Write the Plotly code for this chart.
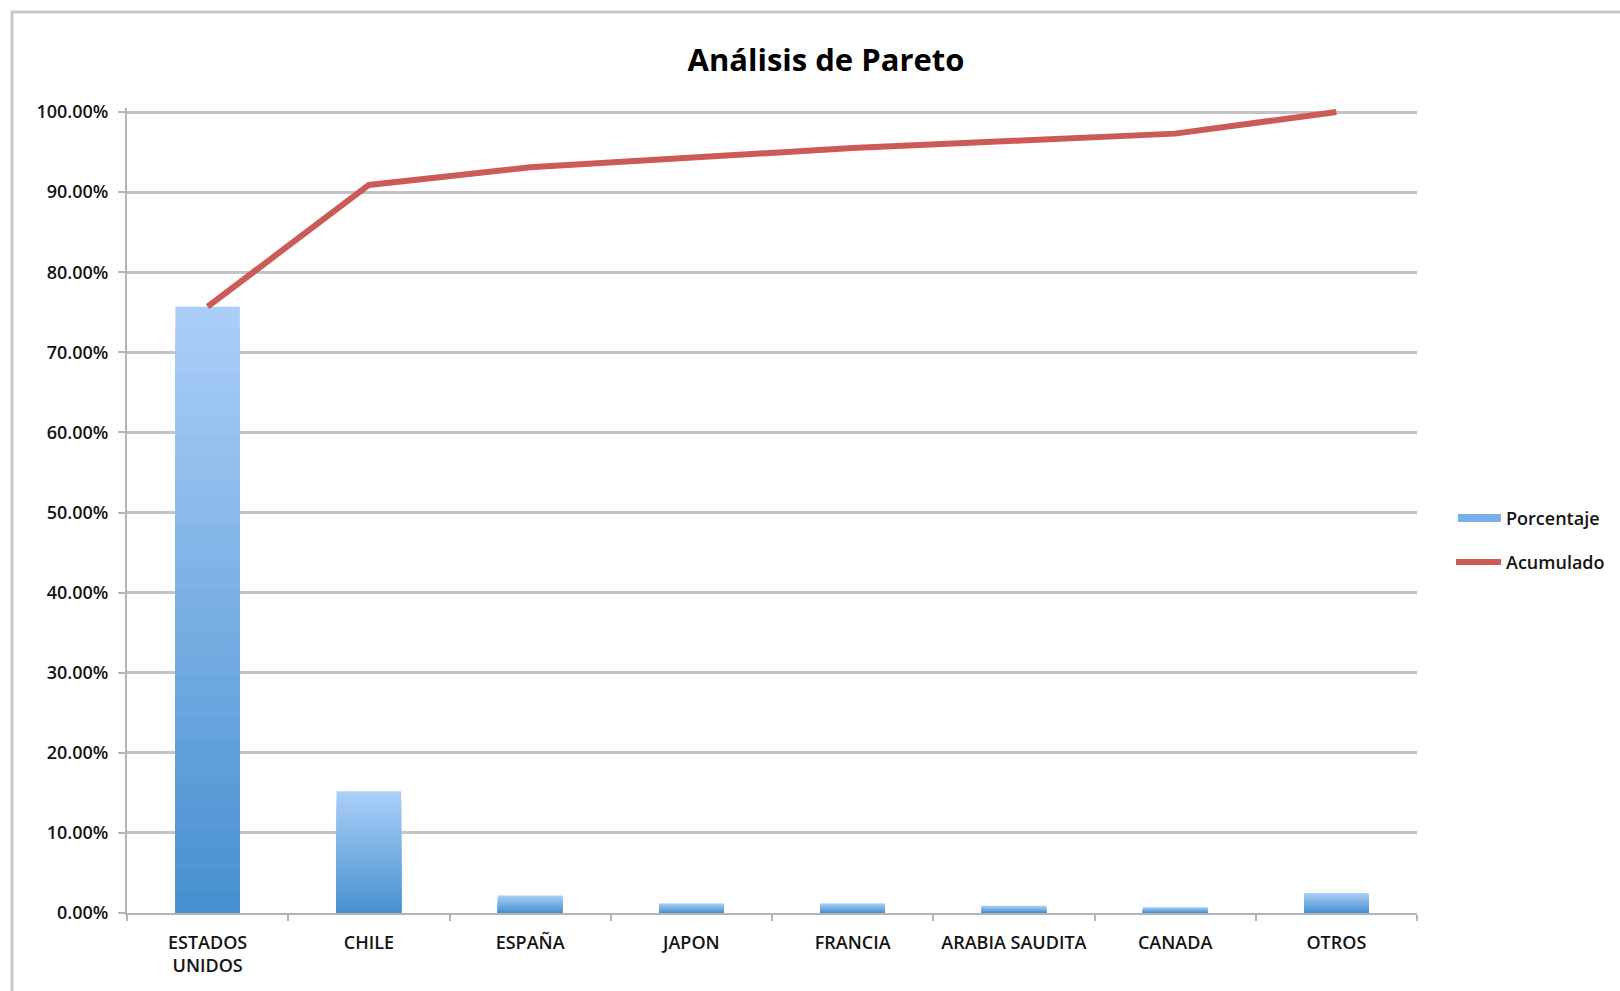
import plotly.graph_objects as go

categories = ["ESTADOS UNIDOS", "CHILE", "ESPAÑA", "JAPON", "FRANCIA", "ARABIA SAUDITA", "CANADA", "OTROS"]
tick_text = ["ESTADOS<br>UNIDOS", "CHILE", "ESPAÑA", "JAPON", "FRANCIA", "ARABIA SAUDITA", "CANADA", "OTROS"]
porcentaje = [75.7, 15.2, 2.2, 1.2, 1.2, 0.9, 0.7, 2.5]
acumulado = [75.7, 90.9, 93.1, 94.3, 95.5, 96.4, 97.3, 100.0]
y_ticks = [0, 10, 20, 30, 40, 50, 60, 70, 80, 90, 100]

W, H = 1620, 991
L, R, T, B = 127, 1417, 108, 913
Y_TOP = 100.5
FONT = "Open Sans"
TXT = "#141414"


def px(x):
    return (x - L) / (R - L)


def py(y):
    return (B - y) / (B - T)


def lerp(c1, c2, t):
    return "rgb(%d,%d,%d)" % tuple(round(a + (b - a) * t) for a, b in zip(c1, c2))


light = (170, 206, 247)
dark = (72, 145, 209)

fig = go.Figure()
N = 28
for i in range(N):
    frac = (N - i) / N
    fig.add_trace(go.Bar(
        x=categories,
        y=[v * frac for v in porcentaje],
        width=0.4,
        marker=dict(color=lerp(light, dark, i / (N - 1)), line=dict(width=0)),
        name="Porcentaje",
        showlegend=False,
        hoverinfo="skip" if i else None,
    ))

fig.add_trace(go.Scatter(
    x=categories, y=acumulado, mode="lines", name="Acumulado",
    line=dict(color="#cc5a55", width=6), cliponaxis=False, showlegend=False,
))

shapes = [
    # chart frame
    dict(type="rect", xref="paper", yref="paper", x0=px(12), x1=px(1700), y0=py(1100), y1=py(12),
         line=dict(color="#c8c8c8", width=3), fillcolor="rgba(0,0,0,0)", layer="below"),
    # legend swatches
    dict(type="rect", xref="paper", yref="paper", x0=px(1458), x1=px(1501), y0=py(522), y1=py(514),
         line=dict(width=0), fillcolor="#78aeea"),
    dict(type="line", xref="paper", yref="paper", x0=px(1456), x1=px(1501), y0=py(562), y1=py(562),
         line=dict(color="#cc5a55", width=6)),
]

annotations = [
    dict(text="Porcentaje", xref="paper", yref="paper", x=px(1504), y=py(518), xanchor="left",
         yanchor="middle", showarrow=False, font=dict(family=FONT, size=18, color=TXT, weight=600)),
    dict(text="Acumulado", xref="paper", yref="paper", x=px(1504), y=py(562), xanchor="left",
         yanchor="middle", showarrow=False, font=dict(family=FONT, size=18, color=TXT, weight=600)),
]

fig.update_layout(
    width=W, height=H,
    margin=dict(l=L, r=W - R, t=T, b=H - B),
    paper_bgcolor="white", plot_bgcolor="white",
    barmode="overlay",
    showlegend=False,
    title=dict(text="<b>Análisis de Pareto</b>", x=px(826), xref="paper", xanchor="center",
               y=1 - 60 / H, yanchor="middle", font=dict(family=FONT, size=31, color="black")),
    font=dict(family=FONT, color=TXT),
    shapes=shapes,
    annotations=annotations,
    xaxis=dict(
        type="category", categoryorder="array", categoryarray=categories,
        tickmode="array", tickvals=categories, ticktext=tick_text,
        range=[-0.5, 7.5], showgrid=False, showline=True, linecolor="#b4b4b4", linewidth=2,
        ticks="outside", tickson="boundaries", ticklen=6, tickwidth=2, tickcolor="#b4b4b4",
        tickfont=dict(family=FONT, size=18, color=TXT, weight=600), tickangle=0,
        ticklabelstandoff=12,
    ),
    yaxis=dict(
        range=[0, Y_TOP], tickmode="array", tickvals=y_ticks,
        ticktext=["%.2f%%" % v for v in y_ticks],
        showgrid=True, gridcolor="#c4c4c4", gridwidth=2.5,
        showline=True, linecolor="#b4b4b4", linewidth=2,
        ticks="outside", ticklen=7, tickwidth=2, tickcolor="#b4b4b4",
        tickfont=dict(family=FONT, size=18, color=TXT, weight=600), zeroline=False,
        ticklabelstandoff=6,
    ),
)

fig.write_html("out.html")
